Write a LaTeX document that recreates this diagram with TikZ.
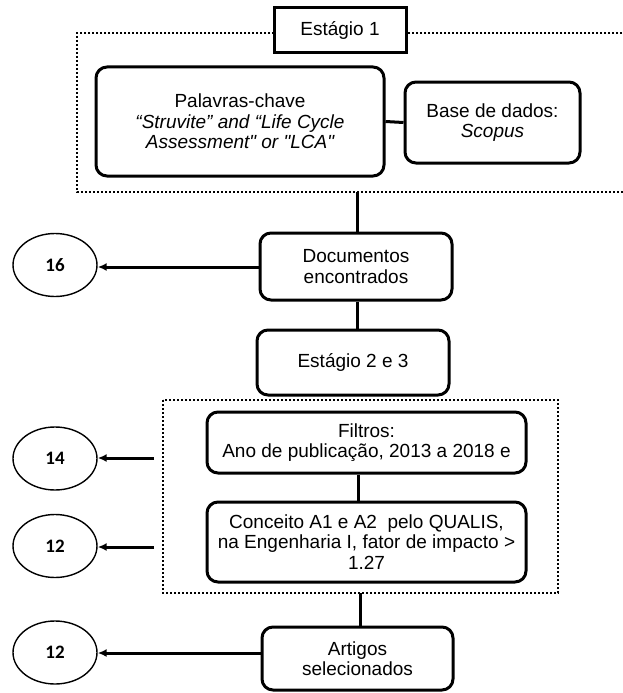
\documentclass[tikz,border=0pt]{standalone}
\usepackage{fontspec}
\setmainfont{Liberation Sans}[Ligatures=TeXOff]
\newfontfamily\numfont{Carlito}
\usetikzlibrary{arrows.meta,shapes.geometric}
\begin{document}
\begin{tikzpicture}[x=1pt,y=-1pt,
  rbox/.style={draw,line width=3pt,rounded corners=11pt,align=center,fill=white,
    font=\fontsize{19}{20.5}\selectfont,inner sep=0pt},
  sbox/.style={draw,line width=3pt,align=center,fill=white,
    font=\fontsize{19}{20.5}\selectfont,inner sep=0pt},
  oval/.style={draw,line width=1.4pt,ellipse,minimum width=84pt,minimum height=63pt,
    inner sep=0pt,font=\numfont\bfseries\fontsize{19}{22}\selectfont},
  conn/.style={line width=3pt},
  arr/.style={line width=3pt,-{Latex[length=9pt,width=8pt]}},
  dotbox/.style={line width=2.6pt,dash pattern=on 2pt off 2pt}]
\useasboundingbox (0,0) rectangle (622,693);
\fill[white] (0,0) rectangle (622,693);
% dotted frames
\draw[dotbox] (630,33) -- (77,33) -- (77,192) -- (630,192);
\draw[dotbox] (163,400) rectangle (558,593);
% nodes
\node[sbox,minimum width=132pt,minimum height=45pt] (st1) at (340,30.5) {Estágio 1};
\node[rbox,minimum width=288pt,minimum height=109pt] (pal) at (240,121.5)
  {Palavras-chave\\\itshape “Struvite” and “Life Cycle\\\itshape Assessment" or "LCA"};
\node[rbox,minimum width=175pt,minimum height=81pt] (base) at (492.5,122.5)
  {Base de dados:\\\itshape Scopus};
\node[rbox,minimum width=192pt,minimum height=67pt] (doc) at (356,266.5)
  {Documentos\\encontrados};
\node[rbox,minimum width=192pt,minimum height=65pt] (st23) at (353,362.5)
  {Estágio 2 e 3};
\node[rbox,minimum width=319pt,minimum height=61pt] (fil) at (366.5,442.5)
  {Filtros:\\Ano de publicação, 2013 a 2018 e};
\node[rbox,minimum width=319pt,minimum height=80pt] (con) at (366.5,542)
  {Conceito A1 e A2\ \ pelo QUALIS,\\na Engenharia I, fator de impacto >\\1.27};
\node[rbox,minimum width=191pt,minimum height=63pt] (art) at (357.5,658.5)
  {Artigos\\selecionados};
\node[oval] (e16) at (55,265) {16};
\node[oval] (e14) at (55,458.5) {14};
\node[oval] (e12a) at (55,546) {12};
\node[oval] (e12b) at (55,652.5) {12};
% connector coordinates
\coordinate (s1b) at (357,192);
\coordinate (s2b) at (360,593);
\coordinate (f14) at (154,458);
\coordinate (f12) at (154,547);
% connectors
\draw[conn] (pal.east) -- (base.west);
\draw[conn] (s1b) -- (s1b |- doc.north);
\draw[conn] (doc.south -| s1b) -- (s1b |- st23.north);
\draw[conn] (fil.south -| 358,0) -- (358,0 |- con.north);
\draw[conn] (s2b) -- (s2b |- art.north);
\draw[arr] (doc.west |- 0,267) -- (e16.east |- 0,267);
\draw[arr] (f14) -- (f14 -| e14.east);
\draw[arr] (f12) -- (f12 -| e12a.east);
\draw[arr] (art.west |- 0,653) -- (e12b.east |- 0,653);
\end{tikzpicture}
\end{document}
